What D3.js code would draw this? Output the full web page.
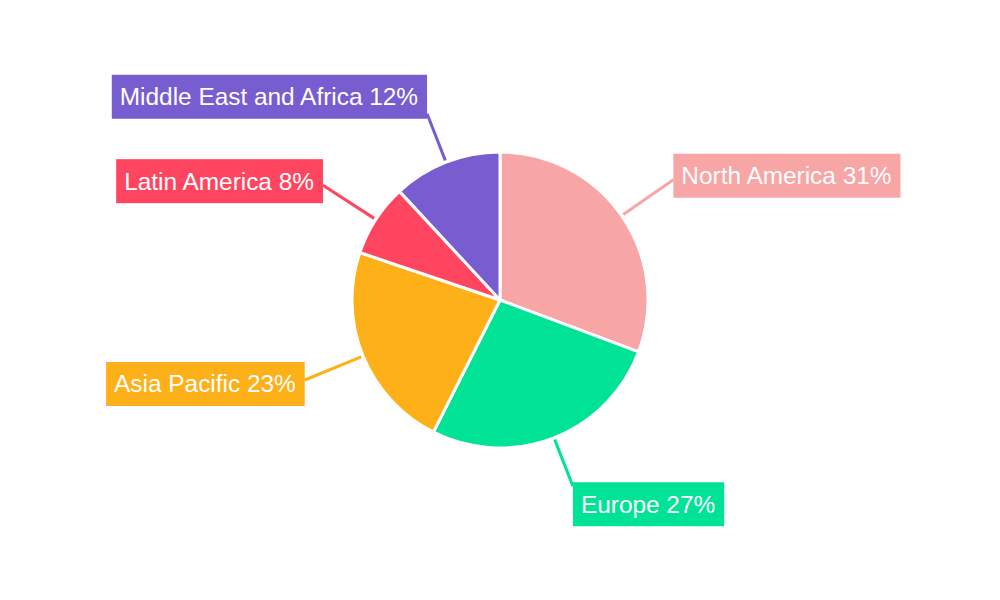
<!DOCTYPE html>
<html>
<head>
<meta charset="utf-8">
<script src="https://cdn.jsdelivr.net/npm/d3@7"></script>
<style>
  html, body { margin: 0; padding: 0; background: #ffffff; }
  svg { display: block; font-family: "Liberation Sans", Arial, sans-serif; }
</style>
</head>
<body>
<svg id="chart" width="1000" height="600"></svg>
<script>
const categories = ["North America", "Europe", "Asia Pacific", "Latin America", "Middle East and Africa"];
const values = [31, 27, 23, 8, 12];
const colors = ["#F8A5A6", "#00E396", "#FEB019", "#FF4560", "#775DD0"];

const W = 1000, H = 600;
const cx = 500, cy = 300, R = 148;

const svg = d3.select("#chart");
const data = categories.map((c, i) => ({ name: c, value: values[i], color: colors[i] }));

const pie = d3.pie().value(d => d.value).sort(null);
const arcs = pie(data);
const arc = d3.arc().innerRadius(0).outerRadius(R);

const g = svg.append("g").attr("transform", `translate(${cx},${cy})`);

const lines = svg.append("g");
const labels = svg.append("g");

g.selectAll("path").data(arcs).enter().append("path")
  .attr("d", arc)
  .attr("fill", d => d.data.color)
  .attr("stroke", "#ffffff")
  .attr("stroke-width", 3)
  .attr("stroke-linejoin", "round");

arcs.forEach(a => {
  const mid = (a.startAngle + a.endAngle) / 2;
  const dx = Math.sin(mid), dy = -Math.cos(mid);
  const vertical = Math.abs(dy) > 0.8;
  const r1 = 150, r2 = vertical ? 200 : 211;
  const x1 = cx + dx * r1, y1 = cy + dy * r1;
  const x2 = cx + dx * r2, y2 = cy + dy * r2;
  lines.append("line")
    .attr("x1", x1).attr("y1", y1).attr("x2", x2).attr("y2", y2)
    .attr("stroke", a.data.color).attr("stroke-width", 3);

  const label = a.data.name + " " + a.data.value + "%";
  const lg = labels.append("g");
  const rect = lg.append("rect").attr("fill", a.data.color);
  const text = lg.append("text")
    .attr("fill", "#ffffff")
    .attr("font-size", 24.4)
    .text(label);
  const tw = text.node().getComputedTextLength();
  const bw = tw + 17, bh = 44;
  const bx = dx > 0 ? x2 : x2 - bw;
  let by;
  if (vertical) {
    by = dy > 0 ? y2 - 4 : y2 + 5 - bh;
  } else {
    by = (y2 + 4 * Math.sign(dy)) - bh / 2;
  }
  rect.attr("x", bx).attr("y", by).attr("width", bw).attr("height", bh);
  text.attr("x", bx + 8).attr("y", by + bh / 2 + 8.5);
});
</script>
</body>
</html>
